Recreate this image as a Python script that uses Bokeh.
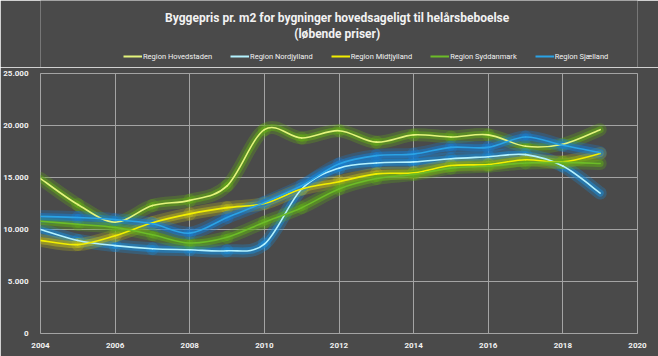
from bokeh.plotting import figure
from bokeh.layouts import column
from bokeh.models import ColumnDataSource, Legend, LegendItem, Range1d, FixedTicker
from bokeh.core.properties import value
from bokeh.embed import file_html
from bokeh.resources import INLINE

years = list(range(2004, 2020))
hovedstaden = [14900, 12400, 10700, 12300, 12800, 14200, 19600, 18800, 19500, 18400, 19100, 18900, 19100, 18000, 18200, 19600]
nordjylland = [10000, 8950, 8450, 8150, 8050, 7950, 8600, 13900, 15900, 16400, 16500, 16800, 17000, 17200, 16100, 13500]
midtjylland = [8950, 8550, 9400, 10650, 11500, 12100, 12500, 13900, 14600, 15350, 15450, 16150, 16250, 16700, 16500, 17300]
syddanmark = [10800, 10500, 10200, 9500, 8700, 9250, 10700, 12100, 13900, 14900, 15300, 15900, 16100, 16400, 16450, 16350]
sjaelland = [11250, 11150, 10950, 10550, 9650, 11150, 12600, 14200, 16300, 17100, 17250, 17900, 17900, 18900, 18100, 17400]

series_names = ["Region Hovedstaden", "Region Nordjylland", "Region Midtjylland", "Region Syddanmark", "Region Sjælland"]
series_values = [hovedstaden, nordjylland, midtjylland, syddanmark, sjaelland]
core_colors = ["#e4f47c", "#b4f2ff", "#f2ee00", "#6cbc28", "#2aa3e6"]
glow_colors = ["#62a818", "#1c8ad6", "#b6b41a", "#5ea61c", "#1a7ccc"]

x_ticks = [2004, 2006, 2008, 2010, 2012, 2014, 2016, 2018, 2020]
y_ticks = [0, 5000, 10000, 15000, 20000, 25000]
y_tick_labels = ["0", "5.000", "10.000", "15.000", "20.000", "25.000"]

title_line1 = "Byggepris pr. m2 for bygninger hovedsageligt til helårsbeboelse"
title_line2 = "(løbende priser)"

BG = "#4a4a4a"
GRID = "#a4a4a4"
TXT = "#f2f2f2"
FONT = "Roboto"
W = 658
TOP_H = 67
MAIN_H = 356 - TOP_H


def smooth_segments(xs, ys):
    # Catmull-Rom style bezier control points (like Excel smoothed lines)
    n = len(xs)
    d = dict(x0=[], y0=[], x1=[], y1=[], cx0=[], cy0=[], cx1=[], cy1=[])
    for i in range(n - 1):
        p0 = (xs[i - 1], ys[i - 1]) if i > 0 else (xs[i], ys[i])
        p1 = (xs[i], ys[i])
        p2 = (xs[i + 1], ys[i + 1])
        p3 = (xs[i + 2], ys[i + 2]) if i + 2 < n else (xs[i + 1], ys[i + 1])
        d["x0"].append(p1[0]); d["y0"].append(p1[1])
        d["x1"].append(p2[0]); d["y1"].append(p2[1])
        d["cx0"].append(p1[0] + (p2[0] - p0[0]) / 6.0)
        d["cy0"].append(p1[1] + (p2[1] - p0[1]) / 6.0)
        d["cx1"].append(p2[0] - (p3[0] - p1[0]) / 6.0)
        d["cy1"].append(p2[1] - (p3[1] - p1[1]) / 6.0)
    return ColumnDataSource(d)


# ---------- header: titles + legend ----------
top = figure(width=W, height=TOP_H, x_range=Range1d(0, W), y_range=Range1d(0, TOP_H),
             output_backend="svg", toolbar_location=None,
             min_border=0, min_border_left=0, min_border_right=0, min_border_top=0, min_border_bottom=0)
top.title = None
top.axis.visible = False
top.grid.visible = False
top.outline_line_color = None
top.background_fill_color = BG
top.border_fill_color = BG

top.text(x=[327], y=[TOP_H - 17], text=[title_line1], text_align="center", text_baseline="middle",
         text_color=TXT, text_font=value(FONT), text_font_size="12px", text_font_style="bold")
top.text(x=[327], y=[TOP_H - 33], text=[title_line2], text_align="center", text_baseline="middle",
         text_color=TXT, text_font=value(FONT), text_font_size="12px", text_font_style="bold")

items = []
for name, vals, cc in zip(series_names, series_values, core_colors):
    # drawn outside the header's visible range; only its legend sample shows
    r = top.line(x=years, y=vals, line_color=cc, line_width=2)
    items.append(LegendItem(label=name, renderers=[r]))
legend = Legend(items=items, orientation="horizontal", location=(83, TOP_H - 54 - 7),
                background_fill_alpha=0, border_line_color=None,
                label_text_color=TXT, label_text_font=FONT, label_text_font_size="7.5px",
                label_height=10, glyph_height=10, glyph_width=19, label_standoff=1,
                spacing=18, padding=2, margin=0)
top.add_layout(legend, "center")

# ---------- main chart ----------
p = figure(width=W, height=MAIN_H, x_range=Range1d(2004, 2020), y_range=Range1d(0, 25000),
           output_backend="svg", toolbar_location=None,
           min_border_left=36, min_border_right=21, min_border_top=6, min_border_bottom=23)
p.title = None
p.background_fill_color = BG
p.border_fill_color = BG
p.outline_line_color = GRID
p.outline_line_width = 1

p.xaxis.ticker = FixedTicker(ticks=x_ticks)
p.yaxis.ticker = FixedTicker(ticks=y_ticks)
p.yaxis.major_label_overrides = {t: l for t, l in zip(y_ticks, y_tick_labels)}
for ax in (p.xaxis, p.yaxis):
    ax.axis_line_color = None
    ax.major_tick_line_color = None
    ax.minor_tick_line_color = None
    ax.major_label_text_color = TXT
    ax.major_label_text_font = FONT
    ax.major_label_text_font_size = "8px"
    ax.major_label_text_font_style = "bold"
p.yaxis.major_label_standoff = 6
p.xaxis.major_label_standoff = 3
p.grid.grid_line_color = GRID
p.grid.grid_line_width = 1

sources = [smooth_segments(years, v) for v in series_values]
bz = dict(x0="x0", y0="y0", x1="x1", y1="y1", cx0="cx0", cy0="cy0", cx1="cx1", cy1="cy1")
for src, gc in zip(sources, glow_colors):
    p.bezier(source=src, line_color=gc, line_width=13, line_alpha=0.3, line_cap="round", **bz)
    p.bezier(source=src, line_color=gc, line_width=7, line_alpha=0.55, line_cap="round", **bz)
for src, cc in zip(sources, core_colors):
    p.bezier(source=src, line_color=cc, line_width=1.6, line_cap="round", **bz)

layout = column(top, p, spacing=0)
open("out.html", "w").write(file_html(layout, INLINE))
